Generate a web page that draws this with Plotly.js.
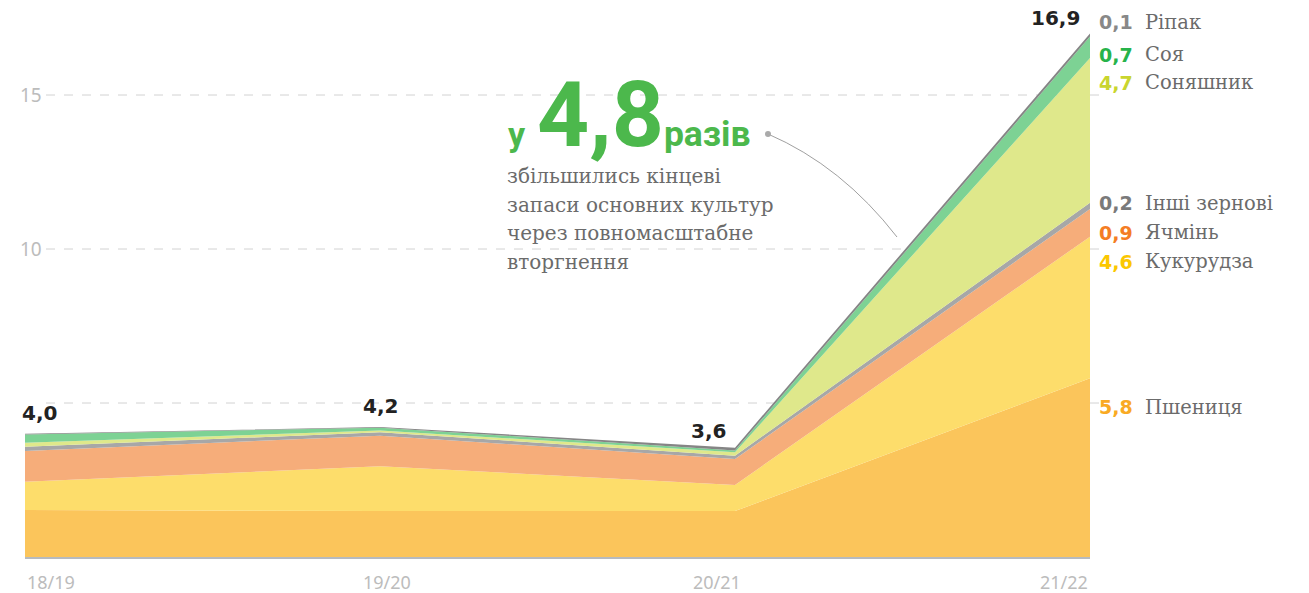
<!DOCTYPE html>
<html><head><meta charset="utf-8">
<script src="https://cdn.plot.ly/plotly-3.0.1.min.js"></script>
<style>html,body{margin:0;padding:0;background:#fff}#chart{width:1309px;height:593px}</style>
</head><body><div id="chart"></div>
<script>
// ---- data (million tonnes, ending stocks) ----
const seasons = ['18/19', '19/20', '20/21', '21/22'];
const wheat = [1.53, 1.49, 1.49, 5.8];
const corn = [0.91, 1.46, 0.85, 4.6];
const barley = [1.0, 0.99, 0.84, 0.9];
const otherGrains = [0.14, 0.11, 0.11, 0.2];
const sunflower = [0.13, 0.06, 0.11, 4.7];
const soy = [0.27, 0.09, 0.06, 0.7];
const rapeseed = [0.02, 0.02, 0.09, 0.1];
const totalLabels = ['4,0', '4,2', '3,6', '16,9'];
const cropNames = ['Пшениця', 'Кукурудза', 'Ячмінь', 'Інші зернові', 'Соняшник', 'Соя', 'Ріпак'];
const lastValueLabels = ['5,8', '4,6', '0,9', '0,2', '4,7', '0,7', '0,1'];
const yTickVals = [10, 15];
const yTickText = ['10', '15'];
const headline = {pre: 'у', num: '4,8', post: 'разів'};
const noteLines = ['збільшились кінцеві', 'запаси основних культур', 'через повномасштабне', 'вторгнення'];

// ---- styles / positions ----
const series = [wheat, corn, barley, otherGrains, sunflower, soy, rapeseed];
const fillColors = ['#fbc55b', '#fddd6b', '#f6ad7a', '#a7a7a7', '#dfe88b', '#7dd294', '#858585'];
const valueColors = ['#f9aa23', '#fbc700', '#f47d24', '#7a7a7a', '#c9d52e', '#27b34a', '#888888'];
const labelY = [4.87, 9.58, 10.52, 11.49, 15.39, 16.3, 17.37];
const GREEN = '#4cb84c';

const traces = series.map((vals, i) => ({
  type: 'scatter', mode: 'lines', x: seasons, y: vals,
  stackgroup: 'one', fillcolor: fillColors[i],
  line: {width: 0, color: fillColors[i]}, hoverinfo: 'skip', name: cropNames[i]
}));

const totals = seasons.map((_, j) => series.reduce((s, arr) => s + arr[j], 0));

const annotations = [];
const totAnchor = ['left', 'center', 'right', 'right'];
const totXShift = [-5, 0, -7, -8];
const totYShift = [21, 21, 17, 15];
totalLabels.forEach((t, j) => annotations.push({
  x: seasons[j], y: totals[j], xref: 'x', yref: 'y', text: t, showarrow: false,
  xanchor: totAnchor[j], yanchor: 'middle', xshift: totXShift[j], yshift: totYShift[j],
  font: {family: 'DejaVu Sans', size: 20, color: '#222222', weight: 'bold'}
}));

const xAnchor = ['left', 'center', 'center', 'right'];
const xShift = [0, 7, -18, 0];
seasons.forEach((s, j) => annotations.push({
  x: s, y: 0, xref: 'x', yref: 'paper', text: s, showarrow: false,
  xanchor: xAnchor[j], yanchor: 'top', xshift: xShift[j], yshift: -11,
  font: {family: 'Noto Sans', size: 18, color: '#bcbcbc'}
}));

cropNames.forEach((n, i) => {
  annotations.push({
    x: 1, y: labelY[i], xref: 'paper', yref: 'y', text: lastValueLabels[i], showarrow: false,
    xanchor: 'right', yanchor: 'middle', xshift: 45,
    font: {family: 'DejaVu Sans', size: 19, color: valueColors[i], weight: 'bold'}
  });
  annotations.push({
    x: 1, y: labelY[i], xref: 'paper', yref: 'y', text: n, showarrow: false,
    xanchor: 'left', yanchor: 'middle', xshift: 53,
    font: {family: 'DejaVu Serif', size: 19.5, color: '#6b6b6b'}
  });
});

const px = v => (v - 25) / 1065;
const py = v => (557 - v) / 552;

annotations.push({
  x: px(506), y: py(150), xref: 'paper', yref: 'paper', showarrow: false,
  xanchor: 'left', yanchor: 'bottom', yshift: -20,
  text: '<span style="font-size:34px">' + headline.pre + '</span><span style="font-size:48px"> </span><span style="font-size:91px">' + headline.num +
        '</span><span style="font-size:35.5px">' + headline.post + '</span>',
  font: {family: 'Roboto', size: 34, color: GREEN, weight: 'bold'}
});

const lineY = [176, 205, 233, 262];
noteLines.forEach((l, k) => annotations.push({
  x: px(505), y: py(lineY[k]), xref: 'paper', yref: 'paper', text: l, showarrow: false,
  xanchor: 'left', yanchor: 'middle',
  font: {family: 'DejaVu Serif', size: 20, color: '#6b6b6b'}
}));

const shapes = [5, 10, 15].map(v => ({
  type: 'line', xref: 'paper', yref: 'y', x0: px(46), x1: px(1100), y0: v, y1: v,
  line: {color: '#d2d2d2', width: 1, dash: 'dash'}, layer: 'below'
}));
shapes.push({
  type: 'path', xref: 'paper', yref: 'paper',
  path: `M ${px(768)} ${py(134)} Q ${px(842)} ${py(166)} ${px(897)} ${py(237)}`,
  line: {color: '#a0a0a0', width: 1}
});
shapes.push({
  type: 'circle', xref: 'paper', yref: 'paper',
  x0: px(765), x1: px(771), y0: py(137), y1: py(131),
  fillcolor: '#aaaaaa', line: {width: 0}
});

const layout = {
  width: 1309, height: 593,
  margin: {l: 25, r: 219, t: 5, b: 36},
  paper_bgcolor: '#ffffff', plot_bgcolor: '#ffffff',
  showlegend: false, hovermode: false,
  xaxis: {type: 'category', range: [0, 3], showgrid: false, zeroline: false,
          showticklabels: false, ticks: '', showline: true, linecolor: '#b6bbc0', linewidth: 2},
  yaxis: {range: [0, 552 / 30.8], showgrid: false, zeroline: false, showline: false,
          tickvals: yTickVals, ticktext: yTickText, ticks: '', ticklabelposition: 'inside',
          ticklabelstandoff: -8,
          tickfont: {family: 'Noto Sans', size: 19, color: '#bcbcbc'}},
  annotations: annotations, shapes: shapes
};

Plotly.newPlot('chart', traces, layout, {displayModeBar: false, staticPlot: true});
</script></body></html>
